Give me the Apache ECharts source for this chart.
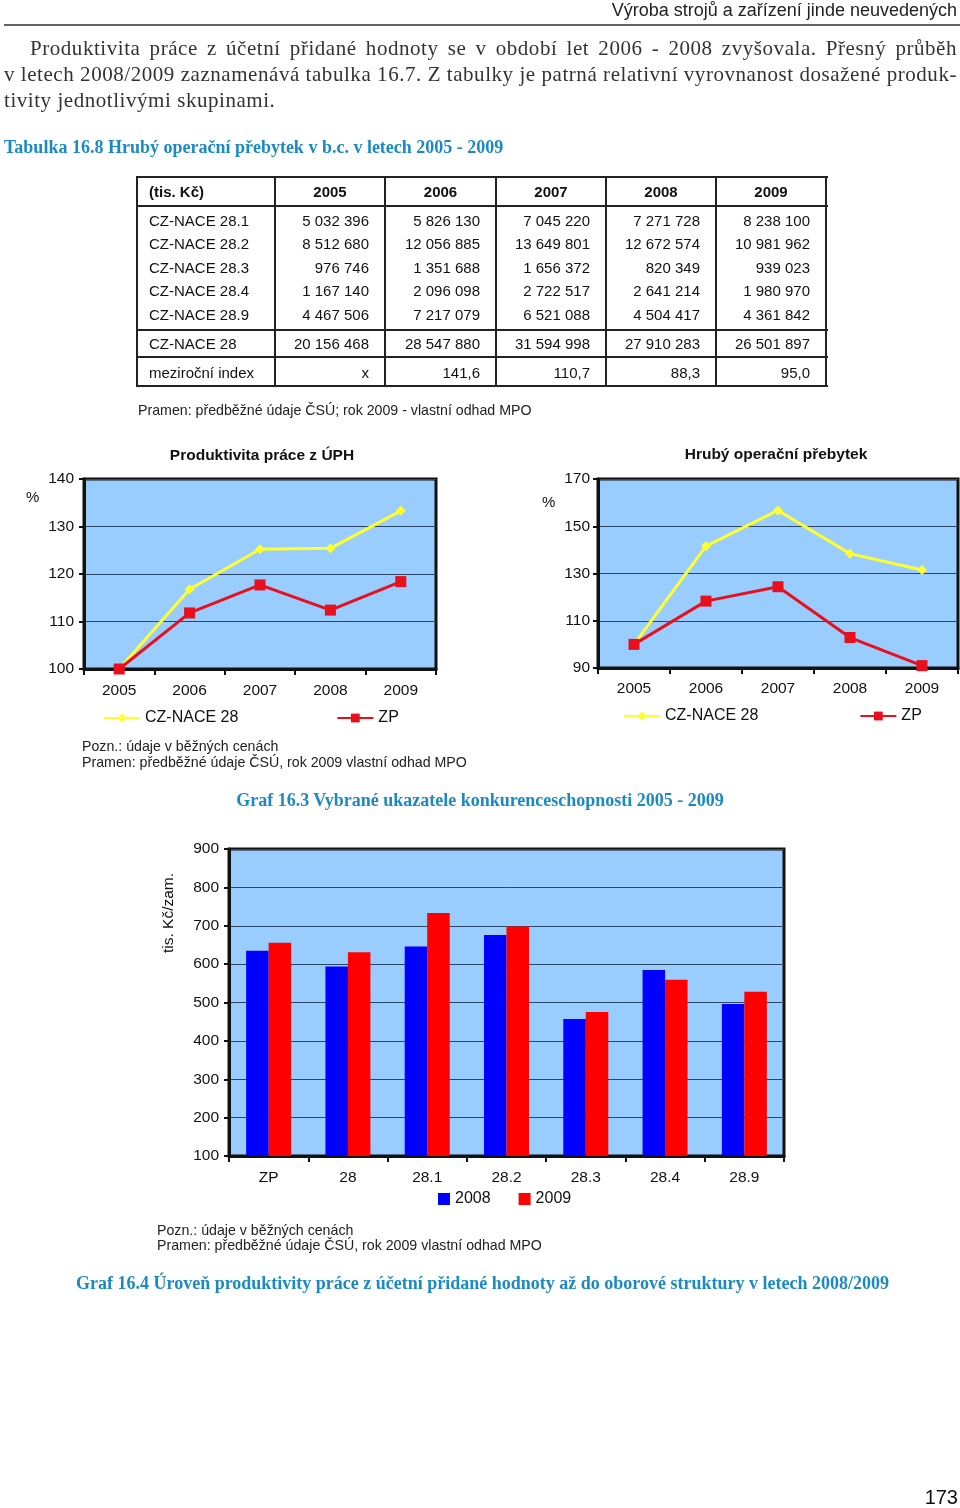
<!DOCTYPE html>
<html><head><meta charset="utf-8">
<script src="https://cdn.jsdelivr.net/npm/echarts/dist/echarts.min.js"></script>
<style>
html,body{margin:0;padding:0;background:#fff;}
body{width:960px;height:1508px;position:relative;overflow:hidden;font-family:'Liberation Sans',Arial,sans-serif;color:#111;}
#chart{position:absolute;left:0;top:0;width:960px;height:1508px;}
.t{position:absolute;white-space:nowrap;}
.par{position:absolute;font-family:'Liberation Serif','Times New Roman',serif;font-size:21px;letter-spacing:0.55px;line-height:24px;color:#333;white-space:nowrap;}
.just{text-align:justify;text-align-last:justify;white-space:normal;}
.cap{font-family:'Liberation Serif','Times New Roman',serif;font-weight:bold;color:#1b8ac3;font-size:18px;line-height:20px;}
.note{font-size:14.2px;line-height:16px;color:#222;}
</style></head>
<body>
<div id="chart"></div>

<div class="t" style="right:3px;top:0;font-size:18px;line-height:20px;color:#222;">Výroba strojů a zařízení jinde neuvedených</div>
<div style="position:absolute;left:4px;right:0;top:24px;height:2px;background:#666;"></div>

<div class="par just" style="left:30px;width:927px;top:36px;height:24px;overflow:hidden;">Produktivita práce z účetní přidané hodnoty se v období let 2006 - 2008 zvyšovala. Přesný průběh</div>
<div class="par just" style="left:4px;width:953px;top:62px;height:24px;overflow:hidden;">v letech 2008/2009 zaznamenává tabulka 16.7. Z tabulky je patrná relativní vyrovnanost dosažené produk-</div>
<div class="par" style="left:4px;top:88px;">tivity jednotlivými skupinami.</div>

<div class="t cap" style="left:4px;top:137px;">Tabulka 16.8 Hrubý operační přebytek v b.c. v letech 2005 - 2009</div>

<div id="tbl"></div>

<div class="t" style="left:138px;top:402px;font-size:14.2px;line-height:16px;color:#222;">Pramen: předběžné údaje ČSÚ; rok 2009 - vlastní odhad MPO</div>

<div class="t" style="left:162px;width:200px;text-align:center;top:446px;font-size:15.5px;line-height:18px;font-weight:bold;color:#111;">Produktivita práce z ÚPH</div>
<div class="t" style="left:676px;width:200px;text-align:center;top:445px;font-size:15.5px;line-height:18px;font-weight:bold;color:#111;">Hrubý operační přebytek</div>
<div class="t" style="left:26px;top:488px;font-size:15px;line-height:18px;">%</div>
<div class="t" style="left:542px;top:493px;font-size:15px;line-height:18px;">%</div>

<div class="t note" style="left:82px;top:738px;">Pozn.: údaje v běžných cenách</div>
<div class="t note" style="left:82px;top:754px;">Pramen: předběžné údaje ČSÚ, rok 2009 vlastní odhad MPO</div>

<div class="t cap" style="left:180px;width:600px;text-align:center;top:790px;">Graf 16.3 Vybrané ukazatele konkurenceschopnosti 2005 - 2009</div>

<div class="t" style="left:118px;top:904px;width:100px;text-align:center;font-size:15.5px;line-height:18px;transform:rotate(-90deg);transform-origin:50px 9px;">tis. Kč/zam.</div>

<div class="t note" style="left:157px;top:1222px;">Pozn.: údaje v běžných cenách</div>
<div class="t note" style="left:157px;top:1237px;">Pramen: předběžné údaje ČSÚ, rok 2009 vlastní odhad MPO</div>

<div class="t cap" style="left:76px;top:1273px;">Graf 16.4 Úroveň produktivity práce z účetní přidané hodnoty až do oborové struktury v letech 2008/2009</div>

<div class="t" style="right:2px;top:1485px;font-size:20px;line-height:24px;color:#111;">173</div>

<script>
// ---------- DATA ----------
const tableYears = ['2005', '2006', '2007', '2008', '2009'];
const tableRowLabels = ['CZ-NACE 28.1', 'CZ-NACE 28.2', 'CZ-NACE 28.3', 'CZ-NACE 28.4', 'CZ-NACE 28.9'];
const nace281 = [5032396, 5826130, 7045220, 7271728, 8238100];
const nace282 = [8512680, 12056885, 13649801, 12672574, 10981962];
const nace283 = [976746, 1351688, 1656372, 820349, 939023];
const nace284 = [1167140, 2096098, 2722517, 2641214, 1980970];
const nace289 = [4467506, 7217079, 6521088, 4504417, 4361842];
const nace28Total = [20156468, 28547880, 31594998, 27910283, 26501897];
const yearIndex = ['x', '141,6', '110,7', '88,3', '95,0'];

const lineYears = ['2005', '2006', '2007', '2008', '2009'];
const productivityNace28 = [100, 116.8, 125.2, 125.4, 133.3];
const productivityZP = [100, 111.8, 117.7, 112.4, 118.4];
const surplusNace28 = [100, 141.6, 156.7, 138.4, 131.5];
const surplusZP = [100, 118.3, 124.4, 102.9, 91.0];

const barCategories = ['ZP', '28', '28.1', '28.2', '28.3', '28.4', '28.9'];
const labour2008 = [635, 594, 646, 676, 457, 585, 496];
const labour2009 = [656, 631, 733, 698, 475, 559, 528];

// ---------- TABLE ----------
function fmt(n) { return String(n).replace(/\B(?=(\d{3})+(?!\d))/g, ' '); }
(function buildTable() {
  const host = document.getElementById('tbl');
  const colX = [137, 275, 385, 496, 606, 716, 826];
  const hLines = [177, 206, 330, 357, 386];
  const bodyCenters = [220.5, 244, 267.5, 291, 314.5];
  const add = (html, style) => { const d = document.createElement('div'); d.className = 't'; d.style.cssText = style; d.textContent = html; host.appendChild(d); };
  const line = (style) => { const d = document.createElement('div'); d.style.cssText = 'position:absolute;background:#222;' + style; host.appendChild(d); };
  hLines.forEach(y => line(`left:${colX[0]}px;width:${colX[6] - colX[0] + 2}px;top:${y - 1}px;height:2px;`));
  colX.forEach(x => line(`left:${x - 1}px;width:2px;top:${hLines[0] - 1}px;height:${hLines[4] - hLines[0] + 2}px;`));
  const fs = 'font-size:15px;line-height:18px;color:#111;';
  const cellLeft = (txt, cy, bold) => add(txt, `${fs}left:${colX[0] + 12}px;top:${cy - 9}px;${bold ? 'font-weight:bold;' : ''}`);
  const cellRight = (txt, col, cy) => add(txt, `${fs}left:${colX[col]}px;width:${colX[col + 1] - colX[col] - 16}px;text-align:right;top:${cy - 9}px;`);
  cellLeft('(tis. Kč)', 191.5, true);
  tableYears.forEach((y, i) => add(y, `${fs}font-weight:bold;left:${colX[i + 1]}px;width:${colX[i + 2] - colX[i + 1]}px;text-align:center;top:${191.5 - 9}px;`));
  const rows = [nace281, nace282, nace283, nace284, nace289];
  rows.forEach((r, ri) => {
    cellLeft(tableRowLabels[ri], bodyCenters[ri]);
    r.forEach((v, i) => cellRight(fmt(v), i + 1, bodyCenters[ri]));
  });
  cellLeft('CZ-NACE 28', 343.5);
  nace28Total.forEach((v, i) => cellRight(fmt(v), i + 1, 343.5));
  cellLeft('meziroční index', 372.5);
  yearIndex.forEach((v, i) => cellRight(v, i + 1, 372.5));
})();

// ---------- CHARTS ----------
const FONT = 'Liberation Sans';
const plotBg = '#99CCFF';
const gridLine = '#2a4766';
const yellow = '#FFFF2E';
const red = '#E8101C';

function gridCfg(left, top, width, height) {
  return { left, top, width, height, show: true, backgroundColor: plotBg, borderColor: '#111', borderWidth: 3, containLabel: false, outerBoundsMode: 'none' };
}
function catAxis(gi, data, margin) {
  return {
    type: 'category', gridIndex: gi, data, boundaryGap: true,
    axisLine: { show: true, lineStyle: { color: '#111', width: 3 } },
    axisTick: { show: true, length: 6, lineStyle: { color: '#111', width: 2 }, alignWithLabel: false },
    axisLabel: { show: true, color: '#111', fontSize: 15.5, fontFamily: FONT, margin },
    splitLine: { show: false }
  };
}
function valAxis(gi, min, max, interval, margin) {
  return {
    type: 'value', gridIndex: gi, min, max, interval,
    axisLine: { show: true, lineStyle: { color: '#111', width: 3 } },
    axisTick: { show: true, length: 5, lineStyle: { color: '#111', width: 2 } },
    axisLabel: { show: true, color: '#111', fontSize: 15.5, fontFamily: FONT, margin },
    splitLine: { show: true, lineStyle: { color: gridLine, width: 1 } }
  };
}
function lineSeries(name, data, gi, color, symbol, size) {
  return {
    type: 'line', name, data, xAxisIndex: gi, yAxisIndex: gi,
    symbol, symbolSize: size, showSymbol: true,
    lineStyle: { color, width: 3 },
    itemStyle: { color, borderWidth: 0 },
    emphasis: { disabled: true }, animation: false
  };
}
const legendText = { color: '#111', fontSize: 16, fontFamily: FONT };

const chart = echarts.init(document.getElementById('chart'), null, { renderer: 'canvas' });
chart.setOption({
  animation: false,
  backgroundColor: 'transparent',
  grid: [
    gridCfg(84, 479, 352, 190),
    gridCfg(598, 479, 360, 189),
    gridCfg(229, 849, 555, 307)
  ],
  xAxis: [
    catAxis(0, lineYears, 14),
    catAxis(1, lineYears, 13),
    catAxis(2, barCategories, 14)
  ],
  yAxis: [
    valAxis(0, 100, 140, 10, 10),
    valAxis(1, 90, 170, 20, 8),
    valAxis(2, 100, 900, 100, 10)
  ],
  legend: [
    { left: 103, top: 710, padding: 0, itemWidth: 36, itemHeight: 11, itemGap: 98, textStyle: legendText,
      data: ['CZ-NACE 28', 'ZP'], selectedMode: false },
    { left: 623, top: 708, padding: 0, itemWidth: 36, itemHeight: 11, itemGap: 101, textStyle: legendText,
      data: ['CZ-NACE 28', 'ZP'], selectedMode: false },
    { left: 438, top: 1191, padding: 0, itemWidth: 12, itemHeight: 12, itemGap: 28, textStyle: legendText,
      data: [{ name: '2008', icon: 'rect' }, { name: '2009', icon: 'rect' }], selectedMode: false }
  ],
  series: [
    lineSeries('CZ-NACE 28', productivityNace28, 0, yellow, 'diamond', 10),
    lineSeries('ZP', productivityZP, 0, red, 'rect', 11),
    lineSeries('CZ-NACE 28', surplusNace28, 1, yellow, 'diamond', 10),
    lineSeries('ZP', surplusZP, 1, red, 'rect', 11),
    { type: 'bar', name: '2008', data: labour2008, xAxisIndex: 2, yAxisIndex: 2, barWidth: 22.5, barGap: '0%',
      itemStyle: { color: '#0000FF' }, emphasis: { disabled: true } },
    { type: 'bar', name: '2009', data: labour2009, xAxisIndex: 2, yAxisIndex: 2, barWidth: 22.5, barGap: '0%',
      itemStyle: { color: '#FF0000' }, emphasis: { disabled: true } }
  ]
});
</script>
</body></html>
